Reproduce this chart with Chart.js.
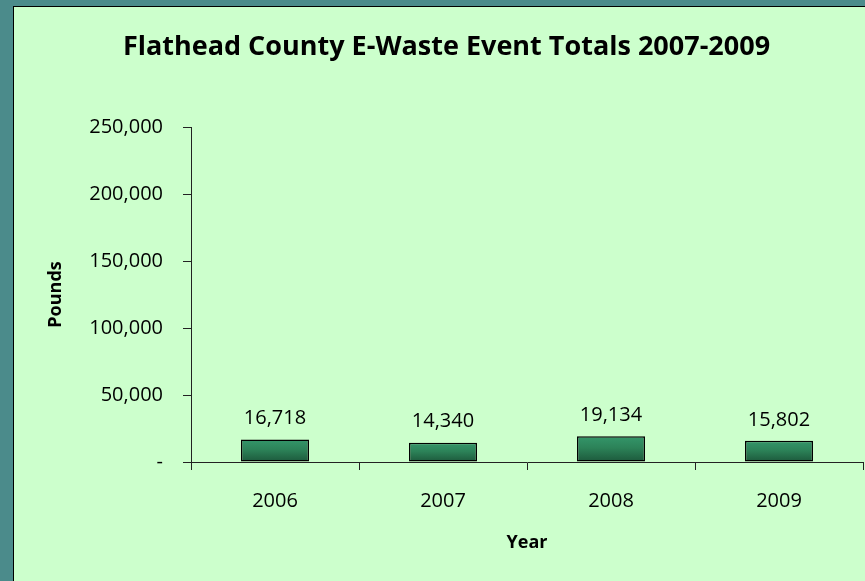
<!DOCTYPE html>
<html>
<head>
<meta charset="utf-8">
<script src="https://cdn.jsdelivr.net/npm/chart.js@4/dist/chart.umd.min.js"></script>
<style>
  html, body { margin: 0; padding: 0; background: #4b8b8b; }
  #wrap { width: 865px; height: 581px; position: relative; }
</style>
</head>
<body>
<div id="wrap"><canvas id="grafico"></canvas></div>
<script>
const years = ["2006", "2007", "2008", "2009"];
const pounds = [16718, 14340, 19134, 15802];
const yTicks = [0, 50000, 100000, 150000, 200000, 250000];

Chart.defaults.font.family = "'Open Sans', sans-serif";
Chart.defaults.color = "#000";

// fondo verde con marco
const panelBg = {
  id: 'panelBg',
  beforeDraw(chart) {
    const c = chart.ctx;
    c.save();
    c.fillStyle = '#4b8b8b';
    c.fillRect(0, 0, chart.width, chart.height);
    c.fillStyle = '#ccffcc';
    c.fillRect(13.5, 6.5, chart.width, chart.height);
    c.strokeStyle = '#000';
    c.lineWidth = 1;
    c.strokeRect(13.5, 6.5, chart.width, chart.height);
    c.restore();
  }
};

// etiquetas de valor sobre las barras
const valueLabels = {
  id: 'valueLabels',
  afterDatasetsDraw(chart) {
    const c = chart.ctx;
    const meta = chart.getDatasetMeta(0);
    c.save();
    c.font = "20px 'Open Sans'";
    c.fillStyle = '#000';
    c.textAlign = 'center';
    c.textBaseline = 'middle';
    meta.data.forEach((bar, i) => {
      c.fillText(pounds[i].toLocaleString('en-US'), bar.x, bar.y - 21);
    });
    c.restore();
  }
};

new Chart(document.getElementById("grafico"), {
  type: 'bar',
  data: {
    labels: years,
    datasets: [{
      data: pounds,
      backgroundColor: (ctx) => {
        const chart = ctx.chart;
        const y = chart.scales.y;
        if (!chart.chartArea || !y || ctx.raw === undefined) return '#2e8050';
        const top = y.getPixelForValue(ctx.raw);
        const bottom = y.getPixelForValue(0);
        if (!isFinite(top) || !isFinite(bottom)) return '#2e8050';
        const g = chart.ctx.createLinearGradient(0, top, 0, bottom);
        g.addColorStop(0, '#34966a');
        g.addColorStop(0.45, '#2c8258');
        g.addColorStop(1, '#1c583b');
        return g;
      },
      borderColor: '#000',
      borderWidth: 1.5,
      borderSkipped: false,
      categoryPercentage: 1,
      barPercentage: 0.405
    }]
  },
  options: {
    responsive: true,
    maintainAspectRatio: false,
    animation: false,
    layout: { padding: { left: 30, right: 2, top: 0, bottom: 0 } },
    plugins: {
      legend: { display: false },
      tooltip: { enabled: false },
      title: {
        display: true,
        text: 'Flathead County E-Waste Event Totals 2007-2009',
        font: { size: 27, weight: 'bold' },
        color: '#000',
        padding: { top: 31, bottom: 63.6 }
      }
    },
    scales: {
      x: {
        grid: { display: true, drawOnChartArea: false, offset: true, tickLength: 8, color: '#222' },
        border: { display: true, color: '#222', width: 1 },
        ticks: { font: { size: 20 }, padding: 19, color: '#000' },
        title: { display: true, text: 'Year', font: { size: 18, weight: 'bold' }, padding: { top: 0, bottom: 27 }, color: '#000' },
        afterFit: (scale) => { scale.height = 119; }
      },
      y: {
        min: 0,
        max: 250000,
        afterBuildTicks: (scale) => { scale.ticks = yTicks.map(v => ({ value: v })); },
        grid: { display: true, drawOnChartArea: false, tickLength: 8, color: '#222' },
        border: { display: true, color: '#222', width: 1 },
        ticks: {
          font: { size: 20 },
          padding: 20,
          color: '#000',
          callback: (v) => v === 0 ? '-' : v.toLocaleString('en-US')
        },
        title: { display: true, text: 'Pounds', font: { size: 18, weight: 'bold' }, padding: { top: 15, bottom: 0 }, color: '#000' },
        afterFit: (scale) => { scale.width = 161; }
      }
    }
  },
  plugins: [panelBg, valueLabels]
});
</script>
</body>
</html>
